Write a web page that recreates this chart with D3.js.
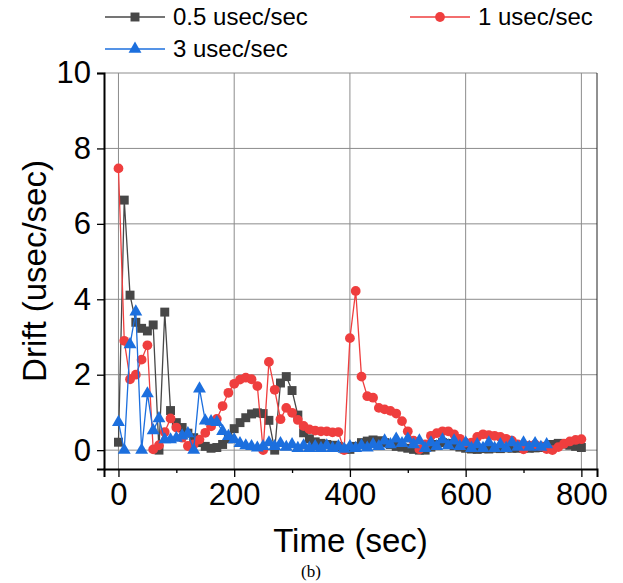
<!DOCTYPE html>
<html>
<head>
<meta charset="utf-8">
<script src="https://cdn.jsdelivr.net/npm/d3@7"></script>
<style>
  body { margin: 0; background: #fff; }
  svg { font-family: 'Liberation Sans', Arial, sans-serif; }
</style>
</head>
<body>
<div id="chart"></div>
<script>
// sample times (sec), one reading every 10 s
const times = d3.range(0, 801, 10);
const timesBlue = d3.range(0, 741, 10);

// drift readings (usec/sec)
const drift05 = [
  0.21, 6.63, 4.11, 3.39, 3.23, 3.16, 3.32, 0.0, 3.66, 1.05,
  0.73, 0.6, 0.45, 0.33, 0.2, 0.1, 0.05, 0.07, 0.15, 0.3,
  0.57, 0.73, 0.86, 0.96, 0.99, 0.97, 0.79, 0.0, 1.78, 1.95,
  1.58, 0.93, 0.46, 0.3, 0.22, 0.18, 0.15, 0.13, 0.1, 0.03,
  0.02, 0.1, 0.2, 0.24, 0.27, 0.25, 0.2, 0.15, 0.1, 0.08,
  0.05, 0.02, 0.0, 0.0, 0.08, 0.15, 0.2, 0.18, 0.12, 0.08,
  0.05, 0.03, 0.02, 0.04, 0.03, 0.05, 0.04, 0.06, 0.05, 0.05,
  0.06, 0.05, 0.06, 0.07, 0.1, 0.15, 0.18, 0.16, 0.13, 0.1,
  0.07,
];
const drift1 = [
  7.47, 2.9, 1.88, 2.0, 2.4, 2.78, 0.02, 0.13, 0.48, 0.84,
  0.6, 0.33, 0.11, 0.15, 0.28, 0.46, 0.63, 0.83, 1.17, 1.52,
  1.76, 1.87, 1.92, 1.88, 1.7, 0.0, 2.34, 1.6, 0.82, 1.12,
  0.99, 0.8, 0.64, 0.55, 0.52, 0.5, 0.5, 0.47, 0.48, 0.0,
  2.97, 4.22, 1.95, 1.43, 1.39, 1.12, 1.08, 1.04, 0.97, 0.77,
  0.5, 0.25, 0.02, 0.15, 0.38, 0.45, 0.5, 0.5, 0.42, 0.3,
  0.2, 0.2, 0.35, 0.42, 0.4, 0.38, 0.35, 0.3, 0.25, 0.15,
  0.02, 0.12, 0.15, 0.1, 0.03, 0.0, 0.08, 0.17, 0.23, 0.27,
  0.29,
];
const drift3 = [
  0.74, 0.0, 2.8, 3.67, 0.0, 1.5, 0.52, 0.84, 0.28, 0.28,
  0.32, 0.38, 0.44, 0.0, 1.63, 0.78, 0.76, 0.74, 0.5, 0.37,
  0.28, 0.18, 0.12, 0.1, 0.06, 0.1, 0.2, 0.1, 0.18, 0.08,
  0.15, 0.05, 0.12, 0.05, 0.1, 0.05, 0.12, 0.05, 0.1, 0.03,
  0.1, 0.05, 0.12, 0.06, 0.15, 0.1, 0.25, 0.15, 0.3, 0.18,
  0.3, 0.15, 0.25, 0.05, 0.2, 0.1, 0.28, 0.12, 0.25, 0.1,
  0.2, 0.05, 0.15, 0.05, 0.2, 0.05, 0.15, 0.05, 0.2, 0.08,
  0.2, 0.08, 0.18, 0.08, 0.15,
];

const xTicks = [0, 200, 400, 600, 800];
const xMinorTicks = [100, 300, 500, 700];
const yTicks = [0, 2, 4, 6, 8, 10];

const series = [
  { name: '0.5 usec/sec', color: '#474747', marker: 'square', t: times, v: drift05 },
  { name: '1 usec/sec', color: '#ef3e3e', marker: 'circle', t: times, v: drift1 },
  { name: '3 usec/sec', color: '#1c6fde', marker: 'triangle', t: timesBlue, v: drift3 },
];

const size = { width: 623, height: 583 };
const margin = { left: 104, top: 73, right: 26, bottom: 114 };

const svg = d3.select('#chart')
  .append('svg')
  .attr('width', size.width)
  .attr('height', size.height);

const x = d3.scaleLinear()
  .domain([-25, 827])
  .range([margin.left, size.width - margin.right]);

const y = d3.scaleLinear()
  .domain([-0.5, 10])
  .range([size.height - margin.bottom, margin.top]);

// grid
const grid = svg.append('g').attr('stroke', '#8c8c8c').attr('stroke-width', 1);
xTicks.forEach((t) => {
  grid.append('line')
    .attr('x1', x(t)).attr('x2', x(t))
    .attr('y1', y.range()[0]).attr('y2', y.range()[1]);
});
yTicks.forEach((t) => {
  grid.append('line')
    .attr('x1', x.range()[0]).attr('x2', x.range()[1])
    .attr('y1', y(t)).attr('y2', y(t));
});

const symbolFor = (m) => {
  if (m === 'square') return d3.symbol().type(d3.symbolSquare).size(80);
  if (m === 'circle') return d3.symbol().type(d3.symbolCircle).size(75);
  return d3.symbol().type(d3.symbolTriangle).size(72);
};

const line = d3.line()
  .x((d) => x(d[0]))
  .y((d) => y(d[1]));

series.forEach((s) => {
  const pts = s.t.map((t, i) => [t, s.v[i]]);
  const g = svg.append('g');
  g.append('path')
    .attr('d', line(pts))
    .attr('fill', 'none')
    .attr('stroke', s.color)
    .attr('stroke-width', 1.3);
  g.selectAll('path.mk')
    .data(pts)
    .join('path')
    .attr('class', 'mk')
    .attr('d', symbolFor(s.marker))
    .attr('transform', (d) => `translate(${x(d[0])},${y(d[1])})`)
    .attr('fill', s.color);
});

// frame: top edge reads as a grid line, right edge darker
svg.append('line')
  .attr('x1', x.range()[1]).attr('x2', x.range()[1])
  .attr('y1', y.range()[0]).attr('y2', y.range()[1])
  .attr('stroke', '#222')
  .attr('stroke-width', 1);

// axes
const xAxis = svg.append('g')
  .attr('transform', `translate(0, ${y.range()[0]})`)
  .call(d3.axisBottom(x).tickValues(xTicks).tickSize(8).tickPadding(6));
svg.append('g')
  .attr('transform', `translate(0, ${y.range()[0]})`)
  .call(d3.axisBottom(x).tickValues(xMinorTicks).tickSize(4).tickFormat(''))
  .call((g) => g.select('.domain').remove());
const yAxis = svg.append('g')
  .attr('transform', `translate(${x.range()[0]}, 0)`)
  .call(d3.axisLeft(y).tickValues(yTicks).tickSize(7).tickPadding(6));

[xAxis, yAxis].forEach((g) => {
  g.select('.domain').attr('stroke', '#000').attr('stroke-width', 2);
  g.selectAll('.tick text')
    .attr('fill', '#000')
    .style('font-size', '31px')
    .style('font-family', "'Liberation Sans', Arial, sans-serif");
});
svg.selectAll('.tick line').attr('stroke', '#000').attr('stroke-width', 1.3);

// axis titles
svg.append('text')
  .attr('x', (x.range()[0] + x.range()[1]) / 2)
  .attr('y', 552)
  .attr('text-anchor', 'middle')
  .style('font-size', '33px')
  .text('Time (sec)');

svg.append('text')
  .attr('transform', `translate(46, ${(y.range()[0] + y.range()[1]) / 2}) rotate(-90)`)
  .attr('text-anchor', 'middle')
  .style('font-size', '33px')
  .text('Drift (usec/sec)');

svg.append('text')
  .attr('x', 311)
  .attr('y', 577)
  .attr('text-anchor', 'middle')
  .style('font-family', "'Liberation Serif', 'Times New Roman', serif")
  .style('font-size', '17px')
  .text('(b)');

// legend
const legendPos = [
  { x: 105, y: 17 },
  { x: 410, y: 17 },
  { x: 105, y: 49 },
];
series.forEach((s, i) => {
  const p = legendPos[i];
  const g = svg.append('g').attr('transform', `translate(${p.x}, ${p.y})`);
  g.append('line')
    .attr('x1', 0).attr('x2', 60)
    .attr('stroke', s.color)
    .attr('stroke-width', 1.3);
  g.append('path')
    .attr('d', symbolFor(s.marker))
    .attr('transform', 'translate(30, 0)')
    .attr('fill', s.color);
  g.append('text')
    .attr('x', 68)
    .attr('dy', '0.35em')
    .style('font-size', '24px')
    .text(s.name);
});
</script>
</body>
</html>
